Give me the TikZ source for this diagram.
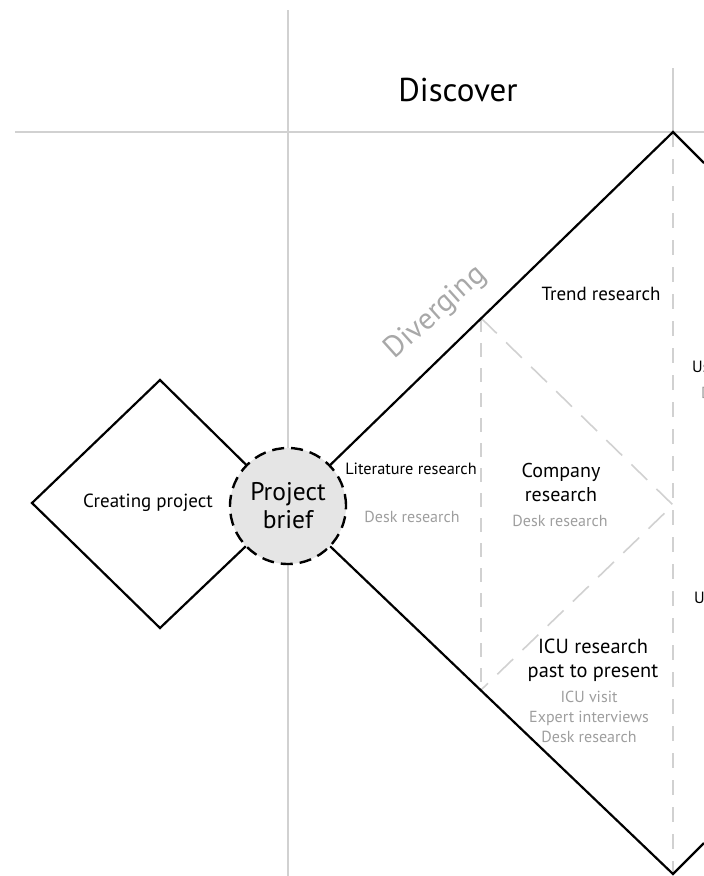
\documentclass[tikz,border=0pt]{standalone}
\usepackage{fontspec}
\setmainfont{PT Sans}
\begin{document}
\begin{tikzpicture}[x=1pt,y=-1pt,
  guide/.style={draw=black!18,line width=2pt},
  guidedash/.style={draw=black!18,line width=1.6pt,dash pattern=on 15pt off 12pt},
  outline/.style={draw=black,line width=2.2pt},
  txt/.style={inner sep=0pt,align=center,text=black},
  sub/.style={inner sep=0pt,align=center,text=black!38},
]
\useasboundingbox (0,0) rectangle (704,876);
\clip (0,0) rectangle (704,876);
% coordinates
\coordinate (gTop) at (288,10);
\coordinate (gBot) at (288,876);
\coordinate (hL) at (15,132);
\coordinate (hR) at (704,132);
\coordinate (rTop) at (673,68);
\coordinate (bigT) at (673,132);
\coordinate (bigB) at (673,874);
\coordinate (bigTR) at (704,163);
\coordinate (bigBR) at (704,843);
\coordinate (inT) at (481,318);
\coordinate (inB) at (481,690);
\coordinate (inR) at (673,505);
\coordinate (cpT) at (160,380);
\coordinate (cpL) at (32,503);
\coordinate (cpB) at (160,628);
% guides
\draw[guide] (gTop) -- (gBot);
\draw[guide] (hL) -- (hR);
\draw[guide] (rTop) -- (bigT);
\draw[guidedash] (bigT) -- (bigB);
% inner dashed diamond
\draw[guidedash,dash pattern=on 14pt off 11pt,line join=miter] (inT) -- (inB);
\draw[guidedash,dash pattern=on 22pt off 13pt,line join=miter] (inT) -- (inR) -- (inB);
% circle node
\node[circle,minimum size=116pt,inner sep=0pt] (brief) at (288,506) {};
% big diamond
\draw[outline,line join=miter] (brief) -- (bigT) -- (bigTR);
\draw[outline,line join=miter] (brief) -- (bigB) -- (bigBR);
% left diamond
\draw[outline,line join=miter] (brief) -- (cpT) -- (cpL) -- (cpB) -- (brief);
% circle on top
\node[circle,minimum size=116pt,inner sep=0pt,fill=black!10,draw=black,line width=2.4pt,dash pattern=on 12pt off 7pt,align=center,font=\fontsize{25.5}{28}\selectfont] at (288,506) {Project\\brief};
% texts
\node[txt,font=\fontsize{33}{36}\selectfont] (disc) at (458,90) {Discover};
\node[sub,text=black!34,rotate=42,font=\fontsize{30}{32}\selectfont] (div) at (436,313) {Diverging};
\node[txt,font=\fontsize{19}{22}\selectfont] (cp) at (148,503) {Creating project};
\node[txt,font=\fontsize{19}{22}\selectfont] (trend) at (601,294) {Trend research};
\node[txt,font=\fontsize{16.3}{20}\selectfont] (lit) at (411,469) {Literature research};
\node[sub,font=\fontsize{16}{20}\selectfont] (litd) at (412,517) {Desk research};
\node[txt,font=\fontsize{20}{24}\selectfont] (comp) at (561,482) {Company\\research};
\node[sub,font=\fontsize{16}{20}\selectfont] (compd) at (560,521) {Desk research};
\node[txt,font=\fontsize{20.4}{24}\selectfont] (icu) at (593,660) {ICU research\\past to present};
\node[sub,font=\fontsize{16}{20}\selectfont] (icud) at (589,717) {ICU visit\\Expert interviews\\Desk research};
% clipped texts at right edge
\node[txt,anchor=west,font=\fontsize{16.3}{20}\selectfont] (u1) at (692,367) {User research};
\node[sub,anchor=west,font=\fontsize{16}{20}\selectfont] (u1d) at (701,393) {Desk research};
\node[txt,anchor=west,font=\fontsize{16.3}{20}\selectfont] (u2) at (694,598) {User research};
\end{tikzpicture}
\end{document}
